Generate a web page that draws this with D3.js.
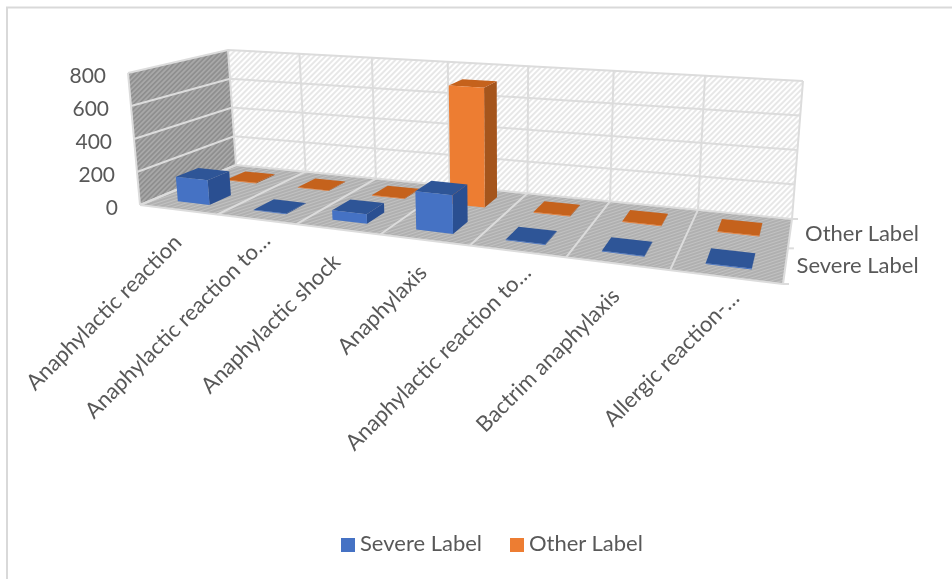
<!DOCTYPE html>
<html>
<head>
<meta charset="utf-8">
<script src="https://cdn.jsdelivr.net/npm/d3@7"></script>
<style>
  html, body { margin: 0; padding: 0; background: #fff; }
  svg { display: block; }
  text { font-family: Lato, "Open Sans", sans-serif; fill: #595959; }
</style>
</head>
<body>
<div id="chart"></div>
<script>
const categories = [
  'Anaphylactic reaction', 'Anaphylactic reaction to…', 'Anaphylactic shock', 'Anaphylaxis',
  'Anaphylactic reaction to…', 'Bactrim anaphylaxis', 'Allergic reaction-…'
];
const seriesNames = ['Severe Label', 'Other Label'];
const severeValues = [150, 4, 55, 215, 4, 4, 4];
const otherValues = [4, 4, 4, 720, 4, 4, 4];
const yTicks = [0, 200, 400, 600, 800];
const seriesValues = { 'Severe Label': severeValues, 'Other Label': otherValues };

const width = 952;
const height = 579;

// corners of the 3d box on screen: front left, front right, back right, back left
const floorQuad = [[140, 205], [783, 284], [792, 219], [236, 165]];
const topQuad = [[128, 73], [796, 119], [803, 81], [228, 50]];

const colors = {
  'Severe Label': { front: '#4472c4', top: '#2f5597', side: '#2b4f91' },
  'Other Label': { front: '#ed7d31', top: '#c5621f', side: '#a5541e' }
};

// unit square -> quad, standard projective mapping
function homography(q) {
  const [[x0, y0], [x1, y1], [x2, y2], [x3, y3]] = q;
  const dx1 = x1 - x2, dx2 = x3 - x2, sx = x0 - x1 + x2 - x3;
  const dy1 = y1 - y2, dy2 = y3 - y2, sy = y0 - y1 + y2 - y3;
  const den = dx1 * dy2 - dx2 * dy1;
  const g = (sx * dy2 - dx2 * sy) / den;
  const h = (dx1 * sy - sx * dy1) / den;
  const a = x1 - x0 + g * x1, b = x3 - x0 + h * x3;
  const d = y1 - y0 + g * y1, e = y3 - y0 + h * y3;
  return (s, t) => {
    const w = g * s + h * t + 1;
    return [(a * s + b * t + x0) / w, (d * s + e * t + y0) / w];
  };
}
const floorAt = homography(floorQuad);
const topAt = homography(topQuad);

// category position -> fraction along the box, the pow eases the perspective a bit
const xPos = d3.scalePow().exponent(0.96).domain([0, categories.length]).range([0, 1]);
const xBar = d3.scaleBand().domain(d3.range(categories.length)).range([0, categories.length])
  .paddingInner(0.58).paddingOuter(0.29);
const zBar = d3.scaleBand().domain(seriesNames).range([0, 1])
  .paddingInner(0.56).paddingOuter(0.28);
const yScale = d3.scaleLinear().domain([0, 800]).range([0, 1]);

// s along categories, t into the depth, k up the wall
function project(s, t, k) {
  const a = floorAt(s, t), b = topAt(s, t);
  return [a[0] + (b[0] - a[0]) * k, a[1] + (b[1] - a[1]) * k];
}

const line = d3.line();
const poly = pts => line(pts) + 'Z';

const svg = d3.select('#chart').append('svg').attr('width', width).attr('height', height);

const defs = svg.append('defs');
function hatch(id, bg, fg, size, angle, sw) {
  const p = defs.append('pattern').attr('id', id).attr('patternUnits', 'userSpaceOnUse')
    .attr('width', size).attr('height', size).attr('patternTransform', `rotate(${angle})`);
  p.append('rect').attr('width', size).attr('height', size).attr('fill', bg);
  p.append('line').attr('x1', 0).attr('x2', size).attr('y1', size / 2).attr('y2', size / 2)
    .attr('stroke', fg).attr('stroke-width', sw);
}
hatch('hatch-back', '#ffffff', '#dadada', 4, -45, 1.3);
hatch('hatch-left', '#8f8f8f', '#adadad', 3.5, -45, 1.5);
hatch('hatch-floor', '#aeaeae', '#c2c2c2', 3, -18, 1.2);
// the source picture is a soft screenshot
defs.append('filter').attr('id', 'soft').append('feGaussianBlur').attr('stdDeviation', 0.4);

const root = svg.append('g').attr('filter', 'url(#soft)');

// chart frame, only top and left are inside the crop
root.append('path').attr('d', `M7,${height}V7.5H${width}`)
  .attr('fill', 'none').attr('stroke', '#d9d9d9').attr('stroke-width', 2);

const box = root.append('g');
box.append('path').attr('d', poly([project(0, 1, 0), project(1, 1, 0), project(1, 1, 1), project(0, 1, 1)]))
  .attr('fill', 'url(#hatch-back)');
box.append('path').attr('d', poly([project(0, 0, 0), project(0, 1, 0), project(0, 1, 1), project(0, 0, 1)]))
  .attr('fill', 'url(#hatch-left)');
box.append('path').attr('d', poly([project(0, 0, 0), project(1, 0, 0), project(1, 1, 0), project(0, 1, 0)]))
  .attr('fill', 'url(#hatch-floor)');

const gridColor = '#dcdcdc';
const grid = box.append('g').attr('fill', 'none').attr('stroke', gridColor).attr('stroke-width', 2);
yTicks.forEach(v => {
  const k = yScale(v);
  grid.append('path').attr('d', line([project(0, 0, k), project(0, 1, k), project(1, 1, k)]));
});
d3.range(0, categories.length + 1).forEach(i => {
  const s = xPos(i);
  grid.append('path').attr('d', line([project(s, 0, 0), project(s, 1, 0), project(s, 1, 1)]));
});
grid.append('path').attr('d', line([project(0, 0, 0), project(0, 0, 1)]));
grid.append('path').attr('d', line([project(0, 0, 0), project(1, 0, 0)]));
// depth ticks out of the right edge
[0, 0.5, 1].forEach(t => {
  const [px, py] = project(1, t, 0);
  grid.append('path').attr('d', line([[px, py], [px + 6, py]]));
});

// back row first so the front row paints over it
const bars = root.append('g');
seriesNames.slice().reverse().forEach(name => {
  const c = colors[name];
  seriesValues[name].forEach((val, i) => {
    const s0 = xPos(xBar(i)), s1 = xPos(xBar(i) + xBar.bandwidth());
    const t0 = zBar(name), t1 = t0 + zBar.bandwidth();
    const k = yScale(val);
    const g = bars.append('g');
    g.append('path').attr('fill', c.side)
      .attr('d', poly([project(s1, t0, 0), project(s1, t1, 0), project(s1, t1, k), project(s1, t0, k)]));
    g.append('path').attr('fill', c.top)
      .attr('d', poly([project(s0, t0, k), project(s1, t0, k), project(s1, t1, k), project(s0, t1, k)]));
    g.append('path').attr('fill', c.front)
      .attr('d', poly([project(s0, t0, 0), project(s1, t0, 0), project(s1, t0, k), project(s0, t0, k)]));
  });
});

// value axis labels follow the slanted front edge of the left wall
yTicks.forEach(v => {
  const [px, py] = project(0, 0, yScale(v));
  root.append('text').attr('x', px - 22).attr('y', py + 3).attr('dy', '0.35em')
    .attr('text-anchor', 'end').attr('font-size', 21).text(v);
});

// truncated labels sit further along their slant in the original
categories.forEach((name, i) => {
  const [px, py] = project(xPos(i + 0.5), 0, 0);
  root.append('text').attr('transform', `translate(${px + 4},${py + 34}) rotate(-45)`)
    .attr('dx', name.endsWith('…') ? 16 : 0)
    .attr('text-anchor', 'end').attr('font-size', 22).text(name);
});

seriesNames.forEach((name, i) => {
  const [px, py] = project(1, zBar(name) + zBar.bandwidth() / 2, 0);
  root.append('text').attr('x', px + 72).attr('y', py).attr('dy', '0.35em')
    .attr('text-anchor', 'middle').attr('font-size', 22).text(name);
});

const legendX = [341, 510];
seriesNames.forEach((name, i) => {
  root.append('rect').attr('x', legendX[i]).attr('y', 538).attr('width', 14).attr('height', 14)
    .attr('fill', colors[name].front);
  root.append('text').attr('x', legendX[i] + 19).attr('y', 551).attr('font-size', 22).text(name);
});
</script>
</body>
</html>
